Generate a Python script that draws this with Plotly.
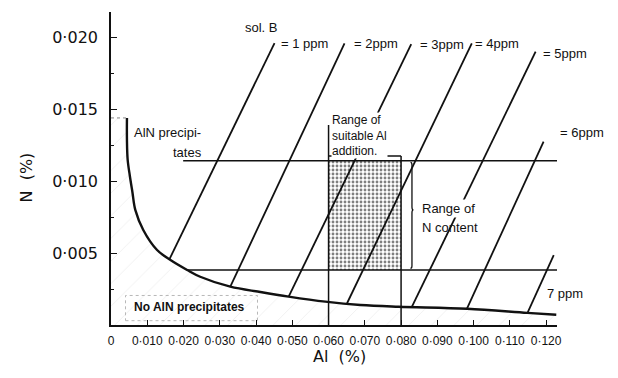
import plotly.graph_objects as go

# Solubility curve of AlN (N % vs Al %)
al_curve = [0.0044, 0.0044, 0.0046, 0.0052, 0.0059, 0.0067, 0.0089, 0.0127, 0.0164,
            0.0210, 0.0246, 0.0329, 0.0412, 0.0490, 0.0591, 0.0688, 0.0793, 0.0982,
            0.1148, 0.1228]
n_curve = [0.01438, 0.01285, 0.01146, 0.01035, 0.00924, 0.00799, 0.00660, 0.00521, 0.00451,
           0.00382, 0.00335, 0.00266, 0.00229, 0.00197, 0.00162, 0.00139, 0.00127, 0.00113,
           0.00084, 0.00071]

# Iso-lines of soluble B (ppm): upper and lower end points
iso_labels = ["= 1 ppm", "= 2ppm", "= 3ppm", "= 4ppm", "= 5ppm", "= 6ppm", "7 ppm"]
iso_al_top = [0.0451, 0.0644, 0.0828, 0.0995, 0.1171, 0.1193, 0.1221]
iso_n_top = [0.01958, 0.01956, 0.01951, 0.01956, 0.01898, 0.01273, 0.00486]
iso_al_end = [0.0161, 0.0329, 0.0490, 0.0651, 0.0830, 0.0982, 0.1148]
iso_n_end = [0.00456, 0.00266, 0.00197, 0.00151, 0.00127, 0.00116, 0.00081]

# Working window
n_content = [0.00382, 0.01141]       # range of N content
al_addition = [0.060, 0.080]         # range of suitable Al addition
al_guide_top = [0.01389, 0.01174]    # top of the two Al guide lines
upper_line_start = 0.0199
line_end = 0.1230

x_ticks = [0, 0.01, 0.02, 0.03, 0.04, 0.05, 0.06, 0.07, 0.08, 0.09, 0.10, 0.11, 0.12]
x_ticktext = ["0", "0·010", "0·020", "0·030", "0·040", "0·050", "0·060", "0·070",
              "0·080", "0·090", "0·100", "0·110", "0·120"]
y_ticks = [0.005, 0.010, 0.015, 0.020]
y_ticktext = ["0·005", "0·010", "0·015", "0·020"]

BLACK = "#111111"
fig = go.Figure()

# faint hatching of the no-precipitation region
fig.add_trace(go.Scatter(
    x=[0] + al_curve + [al_curve[-1], 0],
    y=[n_curve[0]] + n_curve + [0, 0],
    mode="none", fill="toself", fillcolor="rgba(255,255,255,0)",
    fillpattern=dict(shape="/", fgcolor="#e2e2e2", bgcolor="rgba(255,255,255,0)",
                     size=16, solidity=0.06),
    hoverinfo="skip", showlegend=False))

# stippled suitable window
fig.add_trace(go.Scatter(
    x=[al_addition[0], al_addition[1], al_addition[1], al_addition[0], al_addition[0]],
    y=[n_content[0], n_content[0], n_content[1], n_content[1], n_content[0]],
    mode="none", fill="toself", fillcolor="white",
    fillpattern=dict(shape=".", fgcolor="black", bgcolor="white", size=4, solidity=0.4),
    hoverinfo="skip", showlegend=False))

# iso-B lines
for i in range(len(iso_labels)):
    fig.add_trace(go.Scatter(
        x=[iso_al_top[i], iso_al_end[i]], y=[iso_n_top[i], iso_n_end[i]],
        mode="lines", line=dict(color=BLACK, width=1.8),
        hoverinfo="skip", showlegend=False))

# range of N content (horizontal lines)
fig.add_trace(go.Scatter(
    x=[upper_line_start, line_end, None, al_curve[9], line_end],
    y=[n_content[1], n_content[1], None, n_content[0], n_content[0]],
    mode="lines", line=dict(color=BLACK, width=1.5),
    hoverinfo="skip", showlegend=False))

# range of Al addition (vertical lines + underline)
fig.add_trace(go.Scatter(
    x=[al_addition[0], al_addition[0], None, al_addition[1], al_addition[1], None,
       al_addition[0], al_addition[1]],
    y=[al_guide_top[0], 0, None, al_guide_top[1], 0, None,
       al_guide_top[1], al_guide_top[1]],
    mode="lines", line=dict(color=BLACK, width=1.5),
    hoverinfo="skip", showlegend=False))

# solubility curve
fig.add_trace(go.Scatter(
    x=al_curve, y=n_curve, mode="lines", line=dict(color=BLACK, width=2.4, shape="spline"),
    hoverinfo="skip", showlegend=False))

# dotted guide at the top of the curve
fig.add_trace(go.Scatter(
    x=[0, al_curve[0]], y=[n_curve[0], n_curve[0]], mode="lines",
    line=dict(color="#888888", width=1, dash="dot"), hoverinfo="skip", showlegend=False))

txt = dict(family="Liberation Sans, Arial, sans-serif", size=13, color=BLACK)
ann = []
# labels for iso-B lines
shifts = [(4, 0), (7, 0), (7, 0), (1, 0), (5, -2), (14, 9)]
for i in range(6):
    ann.append(dict(x=iso_al_top[i], y=iso_n_top[i], text=iso_labels[i], showarrow=False,
                    xanchor="left", yanchor="middle", xshift=shifts[i][0], yshift=shifts[i][1],
                    font=txt))
ann.append(dict(x=0.1198, y=0.00222, text=iso_labels[6], showarrow=False,
                xanchor="left", yanchor="middle", font=txt))
ann.append(dict(x=0.0415, y=0.02069, text="sol. B", showarrow=False, font=txt))
ann.append(dict(x=0.0059, y=0.0134, text="AlN precipi-", showarrow=False,
                xanchor="left", font=txt))
ann.append(dict(x=0.0210, y=0.0120, text="tates", showarrow=False, font=txt))
ann.append(dict(x=0.0606, y=0.01315, text="Range of<br>suitable Al<br>addition.",
                showarrow=False, xanchor="left", align="left", bgcolor="white",
                borderpad=0, font=dict(txt, size=12)))
ann.append(dict(x=0.0852, y=0.00812, text="Range of", showarrow=False, xanchor="left",
                bgcolor="white", borderpad=1, font=txt))
ann.append(dict(x=0.0852, y=0.00680, text="N content", showarrow=False, xanchor="left",
                font=txt))
ann.append(dict(x=0.0217, y=0.00125, text="<b>No AlN precipitates</b>", showarrow=False,
                font=dict(txt, size=12)))
# axis titles
ann.append(dict(xref="paper", yref="paper", x=-0.215, y=0.47, text="N  (%)",
                textangle=-90, showarrow=False,
                font=dict(family="DejaVu Sans, sans-serif", size=16, color=BLACK)))
ann.append(dict(xref="paper", yref="paper", x=0.512, y=-0.137, text="Al  (%)",
                showarrow=False,
                font=dict(family="DejaVu Sans, sans-serif", size=16, color=BLACK)))

# brace beside the N range
bx = 0.0830
brace = (f"M {bx-0.0004},{n_content[1]-0.00012} Q {bx},{n_content[1]-0.00012} {bx},{n_content[1]-0.0003} "
         f"L {bx},0.0082 Q {bx},0.0080 {bx+0.0004},0.0080 Q {bx},0.0080 {bx},0.0078 "
         f"L {bx},{n_content[0]+0.0003} Q {bx},{n_content[0]+0.00012} {bx-0.0004},{n_content[0]+0.00012}")
shapes = [
    dict(type="path", path=brace, line=dict(color=BLACK, width=1.3)),
    # dotted frame around the lower label
    dict(type="rect", x0=0.0040, x1=0.0404, y0=0.00030, y1=0.00205,
         line=dict(color="#b8b8b8", width=1, dash="dot")),
]

fig.update_layout(
    width=618, height=378,
    margin=dict(l=111, r=61, t=12, b=53),
    paper_bgcolor="white", plot_bgcolor="white",
    annotations=ann, shapes=shapes,
    xaxis=dict(range=[0, 0.1230], showgrid=False, zeroline=False,
               showline=True, linecolor=BLACK, linewidth=1.6,
               tickvals=x_ticks, ticktext=x_ticktext, ticks="inside", ticklen=5,
               tickcolor=BLACK, ticklabelstandoff=4,
               tickfont=dict(family="Liberation Sans, Arial, sans-serif", size=12, color=BLACK)),
    yaxis=dict(range=[0, 0.021736], showgrid=False, zeroline=False,
               showline=True, linecolor=BLACK, linewidth=1.6,
               tickvals=y_ticks, ticktext=y_ticktext, ticks="inside", ticklen=6,
               tickcolor=BLACK, ticklabelstandoff=8,
               minor=dict(tickvals=[0.0025, 0.0075, 0.0125, 0.0175], ticks="inside",
                          ticklen=3, tickcolor=BLACK),
               tickfont=dict(family="DejaVu Sans, sans-serif", size=16, color=BLACK)),
)

fig.write_html("out.html")
